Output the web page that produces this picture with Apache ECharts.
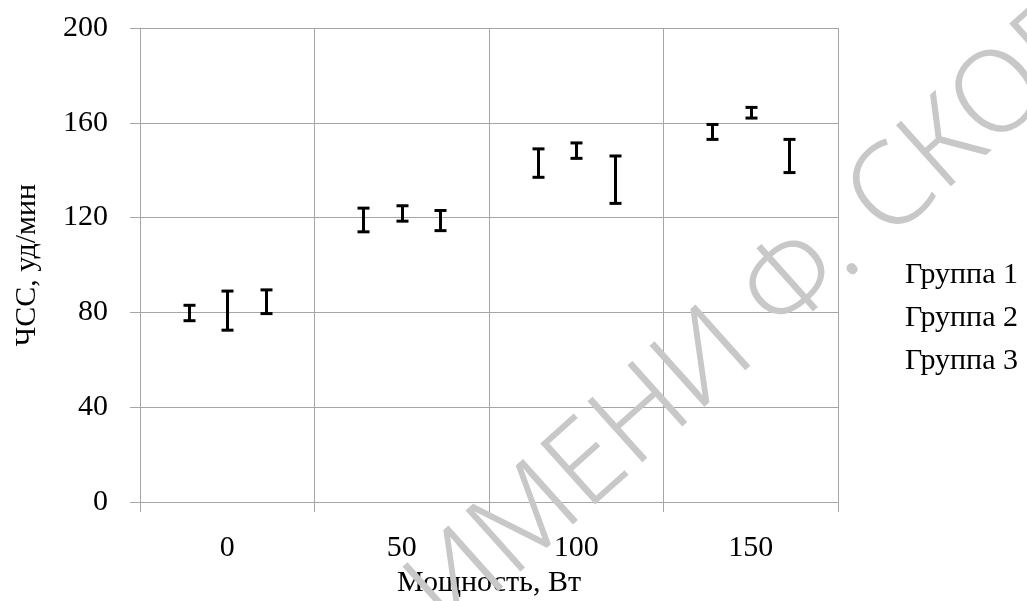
<!DOCTYPE html>
<html>
<head>
<meta charset="utf-8">
<script src="https://cdn.jsdelivr.net/npm/echarts@6/dist/echarts.min.js"></script>
<style>html,body{margin:0;padding:0;background:#fff;}#c{width:1027px;height:601px;}</style>
</head>
<body>
<div id="c"></div>
<script>
var categories = ['0', '50', '100', '150'];
var seriesNames = ['Группа 1', 'Группа 2', 'Группа 3'];
var g1Low  = [76.5, 114, 137, 153];
var g1High = [83, 124, 149, 159.3];
var g2Low  = [72.5, 118.5, 145, 162];
var g2High = [89, 125, 151.5, 166.5];
var g3Low  = [79.5, 114.5, 126, 139];
var g3High = [89.5, 123, 146, 153];
var yTicks = [0, 40, 80, 120, 160, 200];
var watermarkText = 'ИМЕНИ Ф. СКОРИНЫ';

var lows = [g1Low, g2Low, g3Low];
var highs = [g1High, g2High, g3High];
var offsets = [-0.222, 0, 0.222];
var FONT = "'Liberation Serif', 'Times New Roman', serif";
var GRAY = '#a6a6a6';
var FS = 30;

function makeRender(k) {
  return function (params, api) {
    var c = api.value(0), lo = api.value(1), hi = api.value(2);
    var w = api.size([1, 0])[0];
    var pLo = api.coord([c, lo]), pHi = api.coord([c, hi]);
    var x = Math.round(pLo[0] + offsets[k] * w) + 0.5;
    var cap = 6;
    var st = { stroke: '#000', lineWidth: 3 };
    return {
      type: 'group',
      children: [
        { type: 'line', shape: { x1: x, y1: pHi[1], x2: x, y2: pLo[1] }, style: st },
        { type: 'line', shape: { x1: x - cap, y1: pHi[1], x2: x + cap, y2: pHi[1] }, style: st },
        { type: 'line', shape: { x1: x - cap, y1: pLo[1], x2: x + cap, y2: pLo[1] }, style: st }
      ]
    };
  };
}

var series = seriesNames.map(function (name, k) {
  return {
    name: name,
    type: 'custom',
    renderItem: makeRender(k),
    encode: { x: 0, y: [1, 2] },
    data: categories.map(function (c, i) { return [i, lows[k][i], highs[k][i]]; }),
    z: 5
  };
});

var chart = echarts.init(document.getElementById('c'), null, { renderer: 'canvas' });
chart.setOption({
  animation: false,
  backgroundColor: '#fff',
  textStyle: { fontFamily: FONT },
  grid: { left: 140, right: 189, top: 28, bottom: 99, containLabel: false, outerBoundsMode: 'none' },
  legend: {
    orient: 'vertical',
    left: 895, top: 255,
    icon: 'none',
    itemWidth: 0, itemHeight: FS, itemGap: 13,
    data: seriesNames,
    textStyle: { fontFamily: FONT, fontSize: FS, color: '#000', lineHeight: FS }
  },
  xAxis: {
    type: 'category',
    data: categories,
    boundaryGap: true,
    name: 'Мощность, Вт',
    nameLocation: 'middle',
    nameGap: 66,
    nameTextStyle: { fontFamily: FONT, fontSize: FS, color: '#000' },
    axisLine: { show: true, lineStyle: { color: GRAY, width: 1 } },
    axisTick: { show: true, length: 10, lineStyle: { color: GRAY } },
    axisLabel: { margin: 31, fontFamily: FONT, fontSize: FS, color: '#000' },
    splitLine: { show: true, lineStyle: { color: GRAY, width: 1 } }
  },
  yAxis: {
    type: 'value',
    min: yTicks[0], max: yTicks[yTicks.length - 1], interval: yTicks[1] - yTicks[0],
    name: 'ЧСС, уд/мин',
    nameLocation: 'middle',
    nameGap: 98,
    nameRotate: 90,
    nameTextStyle: { fontFamily: FONT, fontSize: FS, color: '#000' },
    axisLine: { show: true, lineStyle: { color: GRAY, width: 1 } },
    axisTick: { show: true, length: 10, lineStyle: { color: GRAY } },
    axisLabel: { margin: 32, fontFamily: FONT, fontSize: FS, color: '#000' },
    splitLine: { show: true, lineStyle: { color: GRAY, width: 1 } }
  },
  graphic: [{
    type: 'text',
    x: 427, y: 611,
    rotation: 0.73,
    z: 100,
    silent: true,
    style: {
      text: watermarkText,
      x: 0, y: 0,
      fill: '#c8c8c8',
      font: "300 115px 'Noto Sans', 'DejaVu Sans', sans-serif",
      align: 'left', verticalAlign: 'middle',
      textAlign: 'left', textVerticalAlign: 'middle'
    }
  }],
  series: series
});
</script>
</body>
</html>
